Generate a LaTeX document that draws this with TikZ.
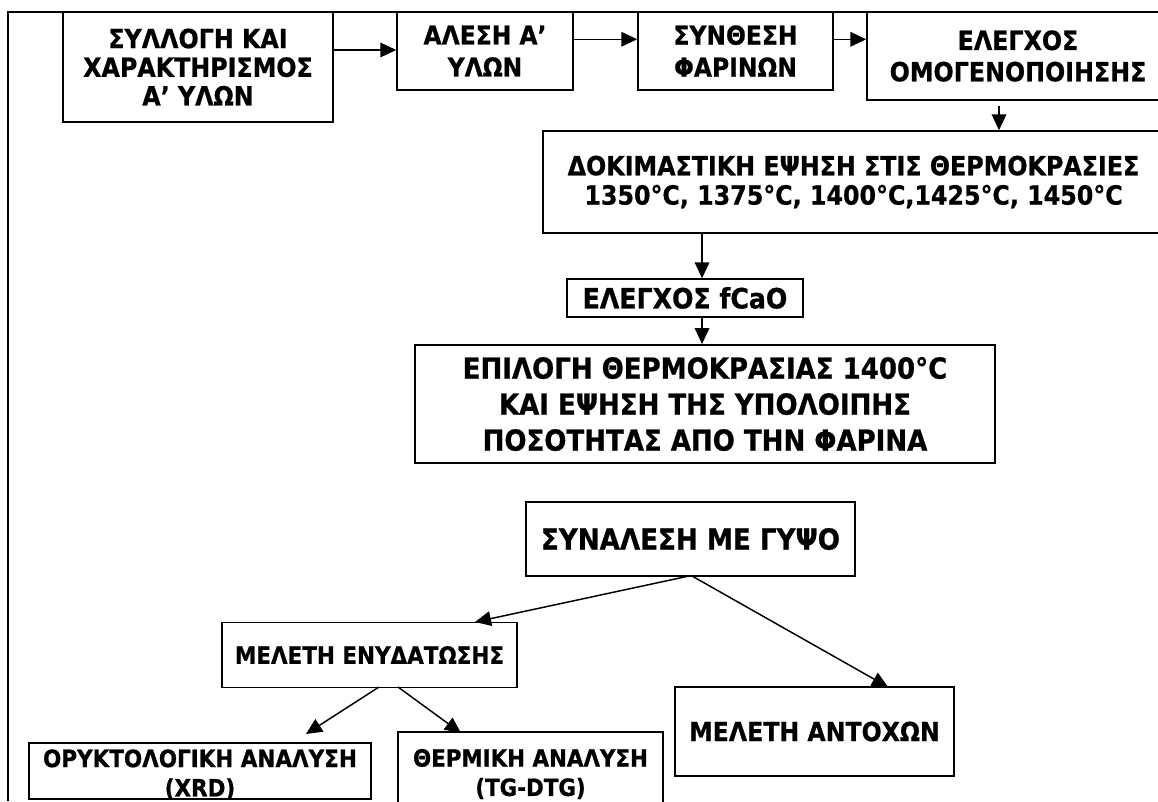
\documentclass[tikz,border=0pt]{standalone}
\usepackage{fontspec}
\setmainfont{DejaVu Sans}[BoldFeatures={FakeStretch=0.9,FakeBold=0.8}]
\usetikzlibrary{arrows.meta}
\newcommand{\fs}[2]{\bfseries\fontsize{#1}{#2}\selectfont}
\begin{document}
\begin{tikzpicture}[x=0.75pt,y=-0.75pt,
  box/.style={draw, line width=1.1pt, inner sep=0pt, align=center, font=\fs{19.8}{21.5}},
  lbl/.style={inner sep=0pt, align=center},
  arr/.style={line width=1.1pt, -{Triangle[length=12pt,width=11pt]}},
  frameline/.style={line width=1.6pt}]
\useasboundingbox (0,0) rectangle (1158,801);
\clip (0,0) rectangle (1158,801);
% frame
\draw[frameline] (8,801) -- (8,12) -- (1158,12);
% top row
\node[box, minimum width=202.5pt, minimum height=82.5pt] (b1) at (198,67) {ΣΥΛΛΟΓΗ ΚΑΙ\\ΧΑΡΑΚΤΗΡΙΣΜΟΣ\\Α’ ΥΛΩΝ};
\node[box, minimum width=132pt, minimum height=58.5pt, font=\fs{19.5}{24}] (b2) at (485,51) {ΑΛΕΣΗ Α’\\ΥΛΩΝ};
\node[box, minimum width=146.25pt, minimum height=58.5pt, font=\fs{19.5}{24}] (b3) at (735.5,51) {ΣΥΝΘΕΣΗ\\ΦΑΡΙΝΩΝ};
\node[box, minimum width=226.5pt, minimum height=66pt, font=\fs{19.8}{23.5}] (b4) at (1018,56) {ΕΛΕΓΧΟΣ\\ΟΜΟΓΕΝΟΠΟΙΗΣΗΣ};
\node[box, minimum width=465.75pt, minimum height=76.5pt, font=\fs{19.8}{22}] (b5) at (853.5,182) {ΔΟΚΙΜΑΣΤΙΚΗ ΕΨΗΣΗ ΣΤΙΣ ΘΕΡΜΟΚΡΑΣΙΕΣ\\1350°C, 1375°C, 1400°C,1425°C, 1450°C};
\node[box, minimum width=177pt, minimum height=28.5pt, font=\fs{21}{22}] (b6) at (685,298) {ΕΛΕΓΧΟΣ fCaO};
\node[box, line width=1.5pt, minimum width=435pt, minimum height=88.5pt, font=\fs{21.7}{27}] (b7) at (705,404) {ΕΠΙΛΟΓΗ ΘΕΡΜΟΚΡΑΣΙΑΣ 1400°C\\ΚΑΙ ΕΨΗΣΗ ΤΗΣ ΥΠΟΛΟΙΠΗΣ\\ΠΟΣΟΤΗΤΑΣ ΑΠΟ ΤΗΝ ΦΑΡΙΝΑ};
\node[box, minimum width=246.75pt, minimum height=55.5pt, font=\fs{21.8}{22}] (b8) at (690.5,539) {ΣΥΝΑΛΕΣΗ ΜΕ ΓΥΨΟ};
\node[box, minimum width=221.25pt, minimum height=48.75pt, font=\fs{17.9}{20}] (b9) at (369.5,655) {ΜΕΛΕΤΗ ΕΝΥΔΑΤΩΣΗΣ};
\node[box, minimum width=256.5pt, minimum height=42pt] (b10) at (200,771) {};
\node[lbl, font=\fs{17.9}{22}] (b10t) at (200,774.5) {ΟΡΥΚΤΟΛΟΓΙΚΗ ΑΝΑΛΥΣΗ\\(XRD)};
\node[box, minimum width=198.75pt, minimum height=63pt, font=\fs{17.8}{22}] (b11) at (530.5,774) {ΘΕΡΜΙΚΗ ΑΝΑΛΥΣΗ\\(TG-DTG)};
\node[box, minimum width=209.25pt, minimum height=66.75pt, font=\fs{19.7}{22}] (b12) at (814.5,731.5) {ΜΕΛΕΤΗ ΑΝΤΟΧΩΝ};
% connectors
\coordinate (p1) at ([yshift=12.75pt]b1.east);
\draw[arr] (p1) -- (p1 -| b2.west);
\coordinate (p2) at ([yshift=8.8pt]b2.east);
\draw[arr] (p2) -- (p2 -| b3.west);
\coordinate (p3) at ([yshift=8.8pt]b3.east);
\draw[arr] (p3) -- (p3 -| b4.west);
\coordinate (p4) at ([xshift=-14.25pt, yshift=-3.75pt]b4.south);
\draw[arr] (p4) -- (p4 |- b5.north);
\coordinate (p5) at ([xshift=-113.6pt]b5.south);
\draw[arr] (p5) -- (p5 |- b6.north);
\draw[arr] (p5 |- b6.south) -- (p5 |- b7.north);
\coordinate (s8a) at (689,576);
\coordinate (s8b) at (692,576);
\coordinate (t9) at (475,622);
\coordinate (t12) at (888,687);
\draw[arr] (s8a) -- (t9);
\draw[arr] (s8b) -- (t12);
\coordinate (s9a) at (379,687);
\coordinate (s9b) at (398,687);
\coordinate (t10) at (306,734);
\coordinate (t11) at (461,733);
\draw[arr] (s9a) -- (t10);
\draw[arr] (s9b) -- (t11);
\end{tikzpicture}
\end{document}
